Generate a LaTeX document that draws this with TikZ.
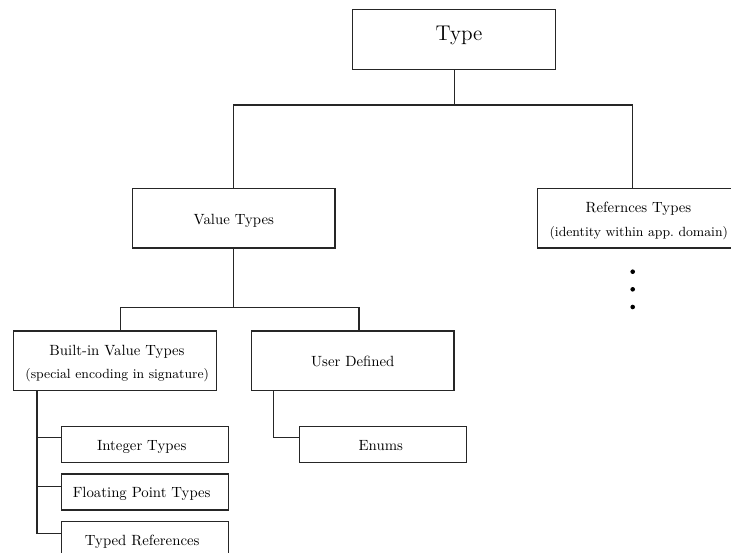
\documentclass[tikz,border=0pt]{standalone}
\def\pxl{0.676pt}
\tikzset{
  box/.style={draw=black!85, line width=0.75pt, rectangle, inner sep=0pt},
  bigbox/.style={box, minimum width=202.5*\pxl, minimum height=59.5*\pxl},
  smallbox/.style={box, minimum width=167*\pxl, minimum height=36*\pxl},
  txt/.style={anchor=base, inner sep=0pt, font=\normalsize},
  subtxt/.style={anchor=base, inner sep=0pt, font=\small},
  conn/.style={draw=black!85, line width=0.75pt},
  dotn/.style={circle, fill=black, inner sep=0pt, minimum size=4.6*\pxl},
}
\begin{document}
\begin{tikzpicture}[x=\pxl, y=-\pxl]
\useasboundingbox (0,0) rectangle (731,553);
% boxes
\node[bigbox] (type) at (454.1,39.5) {};
\node[bigbox] (vt) at (233.8,218.2) {};
\node[bigbox] (ref) at (638.6,218.3) {};
\node[bigbox] (bi) at (114.85,360.8) {};
\node[bigbox] (ud) at (352.7,360.8) {};
\node[smallbox] (int) at (144.8,444.3) {};
\node[smallbox] (fp) at (144.8,492) {};
\node[smallbox] (tr) at (144.8,539.7) {};
\node[smallbox] (en) at (382.7,444.3) {};
% texts
\node[anchor=base, inner sep=0pt, font=\Large] (typet) at (459,40.3) {Type};
\node[txt] (vtt) at (233.8,224) {Value Types};
\node[txt] (reft1) at (638.5,212.3) {Refernces Types};
\node[subtxt] (reft2) at (638.8,236.5) {(identity within app.\ domain)};
\node[txt] (bit1) at (117,355) {Built-in Value Types};
\node[subtxt] (bit2) at (117.2,378.3) {(special encoding in signature)};
\node[txt] (udt) at (352.8,366.5) {User Defined};
\node[txt] (intt) at (141.7,450) {Integer Types};
\node[txt] (fpt) at (141.7,497.7) {Floating Point Types};
\node[txt] (trt) at (142.2,545.7) {Typed References};
\node[txt] (ent) at (380.8,450) {Enums};
% dots
\node[dotn] (d1) at (632.7,271.7) {};
\node[dotn] (d2) at (632.7,289.3) {};
\node[dotn] (d3) at (632.7,307) {};
% connectors
\coordinate (j1) at (454.1,105);
\coordinate (j2) at (233.8,307.3);
\draw[conn] (type.south) -- (j1);
\draw[conn] (j1) -| (vt.north);
\draw[conn] (j1) -| ([shift={(-5.9,0)}]ref.north);
\draw[conn] (vt.south) -- (j2);
\draw[conn] (j2) -| ([shift={(5.85,0)}]bi.north);
\draw[conn] (j2) -| ([shift={(6.3,0)}]ud.north);
\draw[conn] ([shift={(24,0)}]bi.south west) |- ([shift={(0,12)}]int.north west);
\draw[conn] ([shift={(24,0)}]bi.south west) |- ([shift={(0,12.7)}]fp.north west);
\draw[conn] ([shift={(24,0)}]bi.south west) |- ([shift={(0,12)}]tr.north west);
\draw[conn] ([shift={(23,0)}]ud.south west) |- ([shift={(0,12)}]en.north west);
\end{tikzpicture}
\end{document}
